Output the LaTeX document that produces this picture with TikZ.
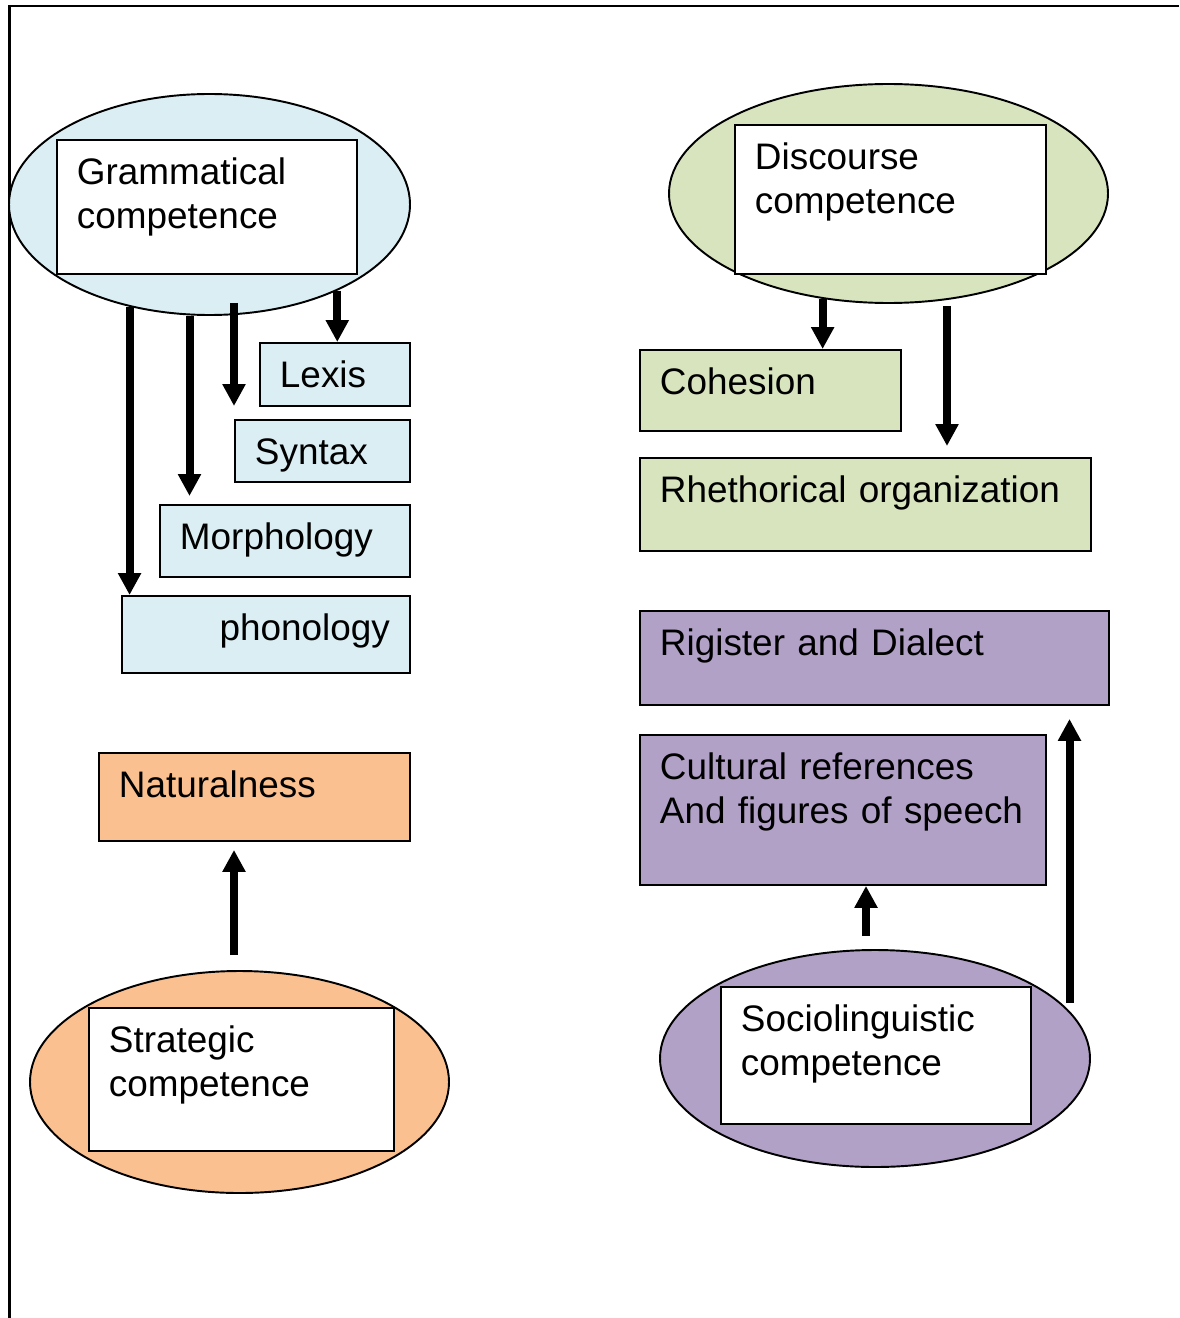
\documentclass[tikz,border=0pt]{standalone}
\usepackage{fontspec}
\setmainfont{Liberation Sans}
\usepackage{tikz}
\usetikzlibrary{arrows.meta,calc,positioning,shapes.geometric}
\definecolor{gblue}{HTML}{DAEEF3}
\definecolor{ggreen}{HTML}{D7E4BD}
\definecolor{gpurple}{HTML}{B2A1C7}
\definecolor{gorange}{HTML}{FAC090}
\newcommand{\boxfont}{\fontsize{21}{24.8}\selectfont}
\tikzset{
    mybox/.style={draw=black,line width=1.1pt,anchor=north west,inner xsep=0.4cm,inner ysep=0pt,
                  text height=0.9cm,align=left,font=\boxfont},
    myoval/.style={draw=black,line width=1.1pt,ellipse,inner sep=0pt},
    myarrow/.style={line width=0.16cm,-{Triangle[width=0.44cm,length=0.44cm]}}
}

\begin{document}
\begin{tikzpicture}
  \useasboundingbox (0,0) rectangle (23.58,-26.36);
  \draw[line width=1.3pt,black] (0.19,-26.36) -- (0.19,-0.12) -- (23.58,-0.12);

  % ovals
  \node[myoval,fill=gblue,minimum width=8.02cm,minimum height=4.42cm] (gram) at (4.19,-4.09) {};
  \node[myoval,fill=ggreen,minimum width=8.78cm,minimum height=4.38cm] (disc) at (17.77,-3.87) {};
  \node[myoval,fill=gorange,minimum width=8.38cm,minimum height=4.44cm] (strat) at (4.79,-21.64) {};
  \node[myoval,fill=gpurple,minimum width=8.6cm,minimum height=4.34cm] (socio) at (17.5,-21.17) {};

  % competence boxes
  \node[mybox,fill=white,text width=5.2cm,text depth=1.78cm] (gramtxt) at (1.12,-2.78) {Grammatical\\competence};
  \node[mybox,fill=white,text width=5.42cm,text depth=2.08cm] (disctxt) at (14.68,-2.48) {Discourse\\competence};
  \node[mybox,fill=white,text width=5.3cm,text depth=1.96cm] (strattxt) at (1.76,-20.14) {Strategic\\competence};
  \node[mybox,fill=white,text width=5.4cm,text depth=1.84cm] (sociotxt) at (14.4,-19.72) {Sociolinguistic\\competence};

  % grammatical parts
  \node[mybox,fill=gblue,text width=2.2cm,text depth=0.36cm] (lexis) at (5.18,-6.84) {Lexis};
  \node[mybox,fill=gblue,text width=2.7cm,text depth=0.34cm] (syntax) at (4.68,-8.38) {Syntax};
  \node[mybox,fill=gblue,text width=4.2cm,text depth=0.54cm] (morph) at (3.18,-10.08) {Morphology};
  \node[mybox,fill=gblue,text width=4.96cm,text depth=0.64cm,align=right] (phon) at (2.42,-11.9) {phonology};

  % discourse parts
  \node[mybox,fill=ggreen,text width=4.42cm,text depth=0.72cm] (coh) at (12.78,-6.98) {Cohesion};
  \node[mybox,fill=ggreen,text width=8.22cm,text depth=0.96cm] (rhet) at (12.78,-9.14) {Rhethorical organization};

  % sociolinguistic parts
  \node[mybox,fill=gpurple,text width=8.58cm,text depth=0.98cm] (rig) at (12.78,-12.2) {Rigister and Dialect};
  \node[mybox,fill=gpurple,text width=7.32cm,text depth=2.1cm] (cult) at (12.78,-14.68) {Cultural references\\And figures of speech};

  % strategic part
  \node[mybox,fill=gorange,text width=5.42cm,text depth=0.86cm] (nat) at (1.96,-15.04) {Naturalness};

  % arrows
  \coordinate (gm) at ($(gram.south)+(-0.4,0)$);
  \coordinate (gs) at ($(gram.south -| syntax.west)+(0,0.26)$);
  \coordinate (dr) at ($(disc.south)+(1.17,-0.04)$);
  \coordinate (sn) at ($(strat.north)+(-0.11,0.3)$);
  \coordinate (sc) at ($(socio.north)+(-0.18,0.26)$);
  \coordinate (sr) at ($(socio.north)+(3.89,-1.08)$);

  \draw[myarrow] (gram.-34.5) -- (gram.-34.5 |- lexis.north);
  \draw[myarrow,shorten >=0.26cm] (gs) -- (gs |- syntax.north);
  \draw[myarrow,shorten >=0.16cm] (gm) -- (gm |- morph.north);
  \draw[myarrow] (gram.232.7) -- (gram.232.7 |- phon.north);

  \draw[myarrow] (disc.238.4) -- (disc.238.4 |- coh.north);
  \draw[myarrow,shorten >=0.22cm] (dr) -- (dr |- rhet.north);

  \draw[myarrow,shorten >=0.16cm] (sn) -- (sn |- nat.south);
  \draw[myarrow] (sc) -- (sc |- cult.south);
  \draw[myarrow,shorten >=0.26cm] (sr) -- (sr |- rig.south);
\end{tikzpicture}
\end{document}
